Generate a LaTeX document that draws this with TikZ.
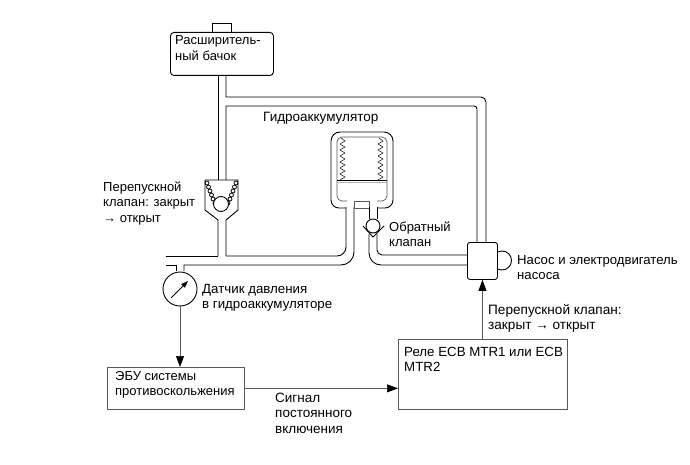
\documentclass[tikz,border=0pt]{standalone}
\usepackage{fontspec}
\setmainfont{Liberation Sans}
\usetikzlibrary{arrows.meta}
\tikzset{
  pipe/.style={line width=0.9pt,black},
  thinline/.style={line width=0.7pt,black!65},
  signal/.style={thinline,-{Triangle[length=11pt,width=8pt,black]}},
  label/.style={anchor=base west,align=left,inner sep=0pt,font=\fontsize{#1}{15.5}\selectfont},
  box/.style={draw,thinline,anchor=north west,inner sep=0pt},
}
\begin{document}
\begin{tikzpicture}[x=1pt,y=-1pt]
\useasboundingbox (0,0) rectangle (690,465);

% Expansion tank with filler cap
\draw[pipe] (212,32) -- (212,23) -- (231,23) -- (231,32);
\node[draw,pipe,rounded corners=3.5pt,minimum width=103pt,minimum height=43pt,anchor=north west,inner sep=0pt] (tank) at (170,32) {};

% Pipes from the tank
\draw[pipe] (218,75) -- (218,180);
\draw[pipe] (226,75) -- (226,97) -- (481,97) arc[start angle=-90,end angle=0,radius=5] -- (486,242);
\draw[pipe] (226,180) -- (226,106) -- (474,106) arc[start angle=-90,end angle=0,radius=3] -- (477,242);

% Bypass valve body, beads and ball
\draw[pipe] (218,256) -- (218,220) -- (205,210) -- (205,180) -- (238,180) -- (238,210) -- (226,220) -- (226,256);
\foreach \px/\py in {207/183,208.5/187,210/191,211.5/195,213/199,215/203,236/183,234.5/187,233/191,231.5/195,230/199,228/203}
  \draw[line width=0.75pt] (\px,\py) circle[radius=2];
\draw[pipe,fill=white] (221,204) circle[radius=7.5];

% Main line to the accumulator
\draw[pipe] (166,256) -- (218,256);
\draw[pipe] (226,256) -- (337,256) arc[start angle=90,end angle=0,radius=9] -- (346,207);
\draw[pipe] (166,265) -- (176,265) -- (176,271);
\draw[pipe] (184,271) -- (184,265) -- (341,265) arc[start angle=90,end angle=0,radius=13] -- (354,207);

% Pressure sensor
\node[draw,pipe,circle,minimum size=34pt,inner sep=0pt] (gauge) at (180,289) {};
\coordinate (needleA) at (171,298);
\coordinate (needleB) at (188,281);
\draw[line width=0.8pt,-{Triangle[length=7pt,width=5pt]}] (needleA) -- (needleB);

% Accumulator
\draw[pipe] (346,208) -- (339,208) arc[start angle=90,end angle=180,radius=8] -- (331,141) arc[start angle=180,end angle=270,radius=9] -- (384,132) arc[start angle=-90,end angle=0,radius=9] -- (393,200) arc[start angle=0,end angle=90,radius=8] -- (377,208);
\draw[thinline] (347,201) -- (342,201) arc[start angle=90,end angle=180,radius=5] -- (337,142) arc[start angle=180,end angle=270,radius=5] -- (382,137) arc[start angle=-90,end angle=0,radius=5] -- (387,196) arc[start angle=0,end angle=90,radius=5] -- (377,201);
\draw[thinline] (354,208) -- (354,201) -- (369,201) -- (369,208) -- cycle;
\draw[pipe] (337,180) -- (387,180);
\draw[line width=1pt,black!30] (337,183) -- (387,183);
\foreach \sx in {340,378}
  \draw[line width=0.5pt] (\sx+1,138)
    \foreach \k in {0,...,6} { -- (\sx+5,141+\k*6) -- (\sx,144+\k*6) };

% Non-return valve and its pipe to the pump
\draw[pipe] (369,207) -- (369,219);
\draw[pipe] (377,207) -- (377,219);
\draw[pipe] (363,226) -- (373,237) -- (384,226);
\draw[pipe,fill=white] (373,226) circle[radius=7];
\draw[pipe] (369,234) -- (369,253) arc[start angle=180,end angle=90,radius=12] -- (467,265);
\draw[pipe] (377,234) -- (377,250) arc[start angle=180,end angle=90,radius=5] -- (467,255);

% Pump and its motor
\draw[pipe] (502,260.5) circle[radius=9.5];
\node[draw,pipe,fill=white,rounded corners=2.5pt,minimum width=30pt,minimum height=37pt,anchor=north west,inner sep=0pt] (pump) at (467,242) {};

% Control units
\node[box,minimum width=137pt,minimum height=42pt] (ecu) at (107,367) {};
\node[box,minimum width=169pt,minimum height=70pt] (relay) at (398,339) {};
\draw[signal] (gauge.south) -- (gauge.south |- ecu.north);
\draw[signal] (ecu.east) -- (ecu.east -| relay.west);
\draw[signal] (pump.south |- relay.north) -- (pump.south);

% Labels (positions give the baseline of the last line)
\node[label=13] (tTank) at (175,60.5) {Расширитель-\\ный бачок};
\node[label=13.5] (tAccum) at (263,122) {Гидроаккумулятор};
\node[label=13] (tBypass) at (103,222) {Перепускной\\клапан: закрыт\\→ открыт};
\node[label=13] (tCheck) at (389,246.5) {Обратный\\клапан};
\node[label=13.15] (tPump) at (517,279.5) {Насос и электродвигатель\\насоса};
\node[label=13.6] (tBypassB) at (488,329.5) {Перепускной клапан:\\закрыт → открыт};
\node[label=13.3] (tSensor) at (202,308.5) {Датчик давления\\в гидроаккумуляторе};
\node[label=13] (tEcu) at (115,395.5) {ЭБУ системы\\противоскольжения};
\node[label=13.3] (tRelay) at (404,371.5) {Реле ECB MTR1 или ECB\\MTR2};
\node[label=13.5] (tSignal) at (275,433) {Сигнал\\постоянного\\включения};
\end{tikzpicture}
\end{document}
